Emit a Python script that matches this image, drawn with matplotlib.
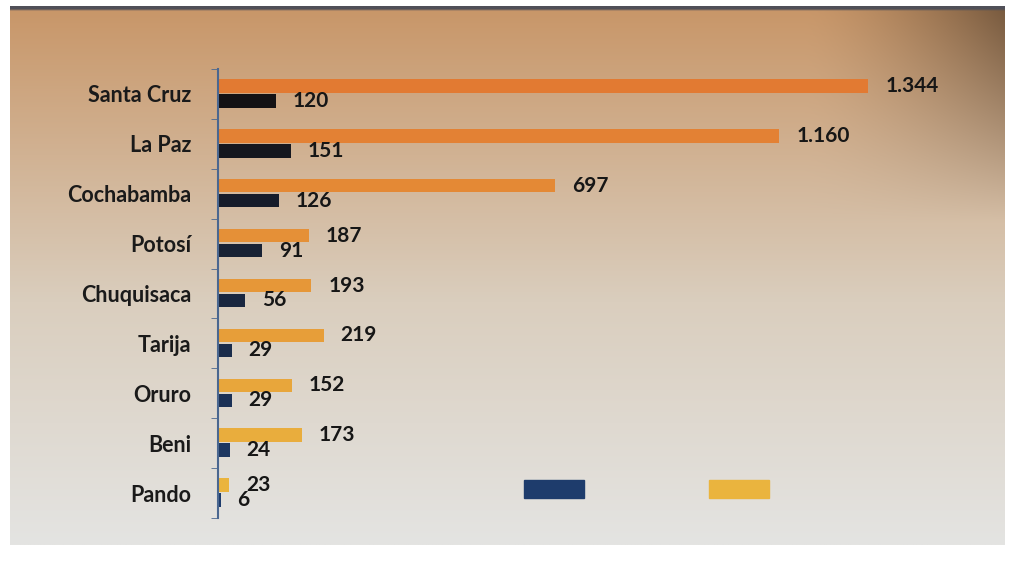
import numpy as np
import matplotlib
matplotlib.use('Agg')
import matplotlib.pyplot as plt
from matplotlib.patches import Patch

# data
departamentos = ['Santa Cruz', 'La Paz', 'Cochabamba', 'Potosí', 'Chuquisaca',
                 'Tarija', 'Oruro', 'Beni', 'Pando']
serie_naranja = [1344, 1160, 697, 187, 193, 219, 152, 173, 23]
serie_oscura = [120, 151, 126, 91, 56, 29, 29, 24, 6]
etiq_naranja = ['1.344', '1.160', '697', '187', '193', '219', '152', '173', '23']
etiq_oscura = ['120', '151', '126', '91', '56', '29', '29', '24', '6']

plt.rcParams['font.family'] = ['Lato', 'DejaVu Sans']
plt.rcParams['font.weight'] = 'bold'

W, H = 1009, 566
fig = plt.figure(figsize=(W / 100, H / 100), dpi=100, facecolor='white')

# photographed screen background: tan at the top, light grey at the bottom
bg = fig.add_axes([10 / W, 1 - 545 / H, 995 / W, 539 / H], zorder=-5)
ny, nx = 270, 300
yy, xx = np.mgrid[0:1:ny * 1j, 0:1:nx * 1j]
top = np.array([200, 150, 104]) / 255.
mid = np.array([218, 206, 190]) / 255.
bot = np.array([228, 228, 226]) / 255.
t = np.clip(yy / 0.55, 0, 1)[..., None]
t2 = np.clip((yy - 0.55) / 0.45, 0, 1)[..., None]
img = np.where(yy[..., None] < 0.55, top * (1 - t) + mid * t, mid * (1 - t2) + bot * t2)
shade = 1 - 0.4 * np.clip((xx - 0.8) / 0.2, 0, 1) ** 1.5 * np.clip((0.4 - yy) / 0.4, 0, 1)
img = img * shade[..., None]
img[:2] = np.array([80, 80, 88]) / 255.
bg.imshow(img, aspect='auto', extent=[0, 1, 1, 0], interpolation='bilinear')
bg.set_axis_off()

ax = fig.add_axes([218 / W, 1 - 518 / H, 782 / W, 449 / H])
ax.set_facecolor('none')

y = np.arange(len(departamentos))
alto = 0.27
c_nar = [np.array([226, 122, 50]) / 255. * (1 - f) + np.array([234, 180, 62]) / 255. * f
         for f in np.linspace(0, 1, len(y))]
c_osc = [np.array([20, 18, 20]) / 255. * (1 - f) + np.array([30, 60, 108]) / 255. * f
         for f in np.linspace(0, 1, len(y))]

b1 = ax.barh(y - 0.16, serie_naranja, height=alto, color=c_nar)
b2 = ax.barh(y + 0.14, serie_oscura, height=alto, color=c_osc)

for rect, txt in zip(b1, etiq_naranja):
    ax.annotate(txt, (rect.get_width(), rect.get_y() + rect.get_height() / 2),
                xytext=(12, 0), textcoords='offset points', ha='left', va='center',
                fontsize=15, fontweight='bold', color='#161616')
for rect, txt in zip(b2, etiq_oscura):
    ax.annotate(txt, (rect.get_width(), rect.get_y() + rect.get_height() / 2),
                xytext=(12, 0), textcoords='offset points', ha='left', va='center',
                fontsize=15, fontweight='bold', color='#161616')

ax.set_xlim(0, 782 / 0.484)
ax.set_ylim(len(y) - 0.5, -0.5)
ax.set_yticks(y)
ax.set_yticklabels(departamentos, fontsize=15.5, fontweight='bold', color='#1a1a1a')
ax.set_yticks(np.arange(-0.5, len(y)), minor=True)
ax.tick_params(axis='y', which='major', length=0, pad=19)
ax.tick_params(axis='y', which='minor', length=5, color='#4a6790', direction='out')
ax.set_xticks([])
for s in ['top', 'right', 'bottom']:
    ax.spines[s].set_visible(False)
ax.spines['left'].set_color('#4a6790')
ax.spines['left'].set_linewidth(1.5)

# legend without text, as in the photo
handles = [Patch(color=c_osc[-1]), Patch(color=c_nar[-1])]
fig.legend(handles, ['', ''], ncol=2, frameon=False, fontsize=10,
           handlelength=4.3, handleheight=1.7, handletextpad=0,
           columnspacing=9.0, loc='center',
           bbox_to_anchor=(646.5 / W, 1 - 489 / H))

fig.savefig('out.png', dpi=100)
